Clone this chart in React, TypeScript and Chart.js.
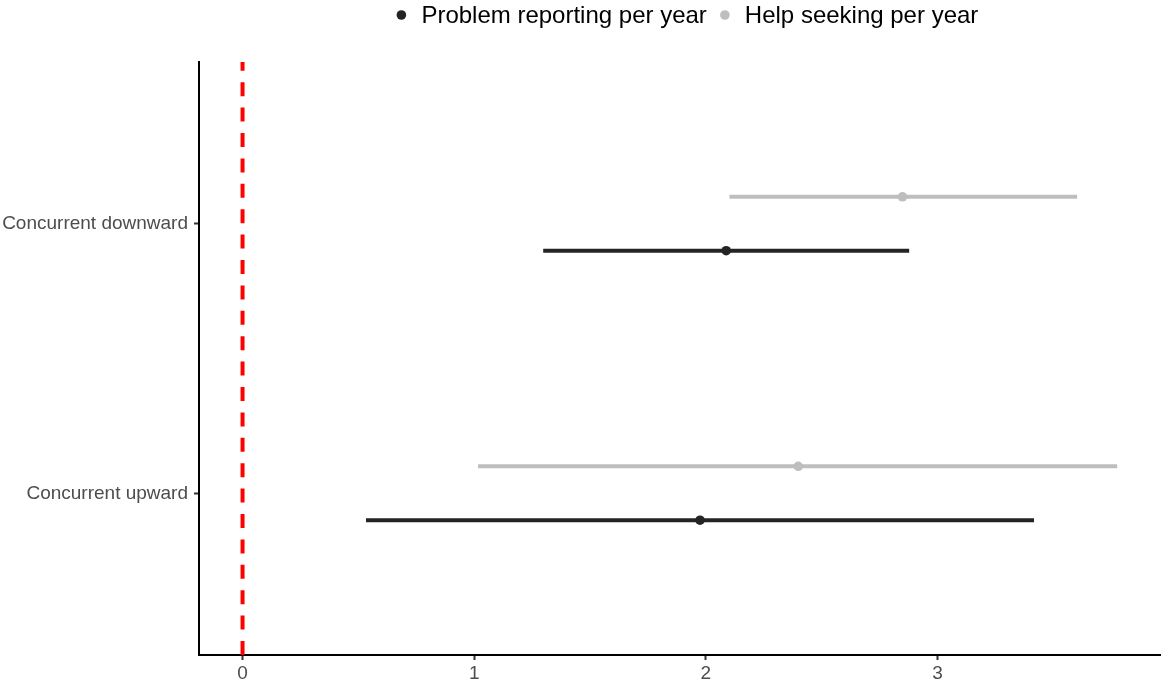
import { useEffect, useRef } from "react";
import { Chart, registerables } from "chart.js";

Chart.register(...registerables);

// Rows of the plot, bottom to top
const categories = ["Concurrent upward", "Concurrent downward"];
const seriesNames = ["Problem reporting per year", "Help seeking per year"];

// Estimates with lower / upper interval bounds, one value per category
const problemEstimate = [1.975, 2.088];
const problemLower = [0.533, 1.298];
const problemUpper = [3.417, 2.878];

const helpEstimate = [2.399, 2.849];
const helpLower = [1.017, 2.102];
const helpUpper = [3.776, 3.603];

const xTicks = [0, 1, 2, 3];
const referenceValue = 0;

const DARK = "#242424";
const LIGHT = "#bebebe";
const FONT = '"Liberation Sans", Arial, Helvetica, sans-serif';

// Vertical dodge of the two series within a row
const DODGE = 0.1;

const rowPos = (i: number) => i + 1;

function intervalDatasets(
  est: number[],
  lo: number[],
  hi: number[],
  offset: number,
  color: string
) {
  const sets: any[] = [];
  est.forEach((_, i) => {
    const y = rowPos(i) + offset;
    sets.push({
      type: "line",
      data: [
        { x: lo[i], y },
        { x: hi[i], y },
      ],
      borderColor: color,
      borderWidth: 4,
      borderCapStyle: "butt",
      pointRadius: 0,
      showLine: true,
      order: 2,
    });
  });
  sets.push({
    type: "scatter",
    data: est.map((v, i) => ({ x: v, y: rowPos(i) + offset })),
    backgroundColor: color,
    borderColor: color,
    borderWidth: 0,
    pointRadius: 4.8,
    order: 1,
  });
  return sets;
}

// Legend drawn above the panel, centred on the plotting area
const legendPlugin = {
  id: "topLegend",
  afterDraw(chart: any) {
    const { ctx, chartArea } = chart;
    const colors = [DARK, LIGHT];
    ctx.save();
    ctx.font = `24px ${FONT}`;
    ctx.textBaseline = "middle";
    ctx.textAlign = "left";
    const widths = seriesNames.map((s) => ctx.measureText(s).width);
    const keyHalf = 8.5;
    const keyToText = 20;
    const itemGap = 18;
    const total = keyHalf + keyToText + widths[0] + itemGap + keyToText + widths[1];
    const center = (chartArea.left + chartArea.right) / 2 + 5.5;
    let x = center - total / 2 + keyHalf;
    const y = 15;
    seriesNames.forEach((name, i) => {
      ctx.fillStyle = colors[i];
      ctx.beginPath();
      ctx.arc(x, y, 4.8, 0, Math.PI * 2);
      ctx.fill();
      ctx.fillStyle = "#000000";
      ctx.fillText(name, x + keyToText, y + 1);
      x += keyToText + widths[i] + itemGap;
    });
    ctx.restore();
  },
};

export default function App() {
  const canvasRef = useRef<HTMLCanvasElement | null>(null);

  useEffect(() => {
    const canvas = canvasRef.current;
    if (!canvas) return;

    const yMin = 1 - 0.6;
    const yMax = categories.length + 0.6;

    const datasets: any[] = [
      {
        // drawn bottom to top so the dash pattern starts at the x axis
        type: "line",
        data: [
          { x: referenceValue, y: yMin },
          { x: referenceValue, y: yMax },
        ],
        borderColor: "#ff0000",
        borderWidth: 4,
        borderDash: [14, 11.4],
        borderCapStyle: "butt",
        pointRadius: 0,
        showLine: true,
        order: 3,
      },
      ...intervalDatasets(helpEstimate, helpLower, helpUpper, DODGE, LIGHT),
      ...intervalDatasets(problemEstimate, problemLower, problemUpper, -DODGE, DARK),
    ];

    const chart = new Chart(canvas, {
      type: "scatter",
      data: { datasets },
      options: {
        animation: false,
        responsive: false,
        devicePixelRatio: 1,
        layout: { padding: { top: 62, right: 1, left: 0, bottom: 0 } },
        plugins: {
          legend: { display: false },
          tooltip: { enabled: false },
        },
        scales: {
          x: {
            type: "linear",
            min: -0.188,
            max: 3.966,
            afterBuildTicks: (scale: any) => {
              scale.ticks = xTicks.map((v) => ({ value: v }));
            },
            afterFit: (scale: any) => {
              scale.height = 30;
            },
            border: { display: true, color: "#000000", width: 2 },
            grid: {
              drawOnChartArea: false,
              drawTicks: true,
              tickLength: 5,
              tickColor: "#333333",
              tickWidth: 2,
            },
            ticks: {
              color: "#4d4d4d",
              font: { family: FONT, size: 19 },
              padding: 2,
              maxRotation: 0,
              callback: (v: any) => String(v),
            },
          },
          y: {
            type: "linear",
            min: yMin,
            max: yMax,
            afterBuildTicks: (scale: any) => {
              scale.ticks = categories.map((_, i) => ({ value: rowPos(i) }));
            },
            afterFit: (scale: any) => {
              scale.width = 199;
            },
            border: { display: true, color: "#000000", width: 2 },
            grid: {
              drawOnChartArea: false,
              drawTicks: true,
              tickLength: 5,
              tickColor: "#333333",
              tickWidth: 2,
            },
            ticks: {
              color: "#4d4d4d",
              font: { family: FONT, size: 19 },
              padding: 6,
              callback: (v: any) => {
                const idx = Math.round(Number(v)) - 1;
                return categories[idx] ?? "";
              },
            },
          },
        },
      },
      plugins: [legendPlugin],
    } as any);

    return () => chart.destroy();
  }, []);

  return (
    <div
      style={{
        position: "absolute",
        left: 0,
        top: 0,
        width: 1161,
        height: 685,
        overflow: "hidden",
        background: "#ffffff",
      }}
    >
      <canvas ref={canvasRef} width={1166} height={685} style={{ display: "block" }} />
    </div>
  );
}
